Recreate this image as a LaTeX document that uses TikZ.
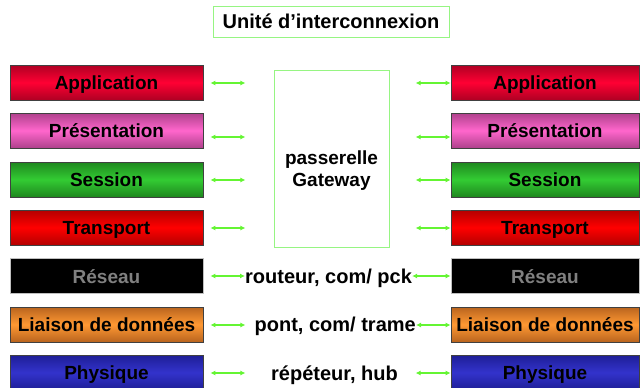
\documentclass[tikz,border=0pt]{standalone}
\usepackage{fontspec}
\setmainfont{Liberation Sans}
\usetikzlibrary{arrows.meta,calc}

\definecolor{linkgreen}{RGB}{100,245,50}
\definecolor{framegreen}{RGB}{150,245,130}
\definecolor{appB}{RGB}{255,0,51}   \definecolor{appD}{RGB}{175,0,35}
\definecolor{preB}{RGB}{255,102,204} \definecolor{preD}{RGB}{175,65,140}
\definecolor{sesB}{RGB}{51,204,51}  \definecolor{sesD}{RGB}{30,135,30}
\definecolor{traB}{RGB}{255,0,0}    \definecolor{traD}{RGB}{180,0,0}
\definecolor{liaB}{RGB}{255,153,51} \definecolor{liaD}{RGB}{185,100,30}
\definecolor{phyB}{RGB}{51,51,204}  \definecolor{phyD}{RGB}{30,30,150}

\tikzset{
  layer/.style={draw=black!75, line width=0.8pt, minimum height=35pt,
    inner sep=0pt, text height=14pt, text depth=0pt,
    font=\bfseries\fontsize{19}{22}\selectfont, text=black},
  leftlayer/.style={layer, minimum width=193pt},
  rightlayer/.style={layer, minimum width=188pt},
  grad/.style 2 args={top color=#2, bottom color=#2, middle color=#1},
  link/.style={linkgreen, line width=1.2pt,
    {Latex[length=5pt,width=5pt]}-{Latex[length=5pt,width=5pt]}},
  midtext/.style={inner sep=0pt, font=\bfseries\fontsize{20}{22}\selectfont},
  greenframe/.style={draw=framegreen, line width=1pt}
}

\begin{document}
\begin{tikzpicture}[x=1pt,y=-1pt]
\useasboundingbox (0,0) rectangle (640,388);

% heading
\node[greenframe, minimum width=236pt, minimum height=31pt, inner sep=0pt,
  font=\bfseries\fontsize{20}{22}\selectfont] (title) at (331,21.5) {Unité d’interconnexion};

% interconnection device spanning the upper layers
\node[greenframe, minimum width=115pt, minimum height=177pt] (gw) at (331.5,158.5) {};
\node[align=center, inner sep=0pt, font=\bfseries\fontsize{19}{22}\selectfont] (gwtext) at (331.5,171) {passerelle\\Gateway};

% the two protocol stacks
\foreach \n/\lab/\y/\b/\d in {
    app/Application/82.5/appB/appD,
    pre/Présentation/130.5/preB/preD,
    ses/Session/179.5/sesB/sesD,
    tra/Transport/227.5/traB/traD,
    lia/Liaison de données/324.5/liaB/liaD,
    phy/Physique/372.5/phyB/phyD}{
  \node[leftlayer, grad={\b}{\d}] (L\n) at (106.5,\y) {\lab};
  \node[rightlayer, grad={\b}{\d}] (R\n) at (545,\y) {\lab};
}
\node[leftlayer, fill=black, draw=black!25, text=black!50] (Lres) at (106.5,276) {Réseau};
\node[rightlayer, fill=black, draw=black!25, text=black!50] (Rres) at (545,276) {Réseau};

% devices of the lower layers
\node[midtext, anchor=west] (rout) at (245,278) {routeur, com/ pck};
\node[midtext, anchor=east] (pont) at (416,326.5) {pont, com/ trame};
\node[midtext] (rep) at (334.5,375) {répéteur, hub};

% links of the upper layers towards the gateway
\foreach \n/\dy in {app/0.5, pre/6.5, ses/0.5, tra/0.5}{
  \draw[link] ($(L\n.east)+(7,\dy)$) -- ($(L\n.east)+(42,\dy)$);
  \draw[link] ($(R\n.west)+(-35,\dy)$) -- ($(R\n.west)+(0,\dy)$);
}

% links of the lower layers
\draw[link] ($(Lres.east)+(7,0)$) -- ($(rout.west)+(0,-2)$);
\draw[link] ($(rout.east)+(0,-2)$) -- (Rres.west);
\draw[link] ($(Llia.east)+(7,0.5)$) -- ($(Llia.east)+(42,0.5)$);
\draw[link] ($(pont.east)+(0,-1.5)$) -- ($(Rlia.west)+(0,0.5)$);
\draw[link] ($(Lphy.east)+(7,0.5)$) -- ($(Lphy.east)+(42,0.5)$);
\draw[link] ($(Rphy.west)+(-35,0.5)$) -- ($(Rphy.west)+(0,0.5)$);
\end{tikzpicture}
\end{document}
